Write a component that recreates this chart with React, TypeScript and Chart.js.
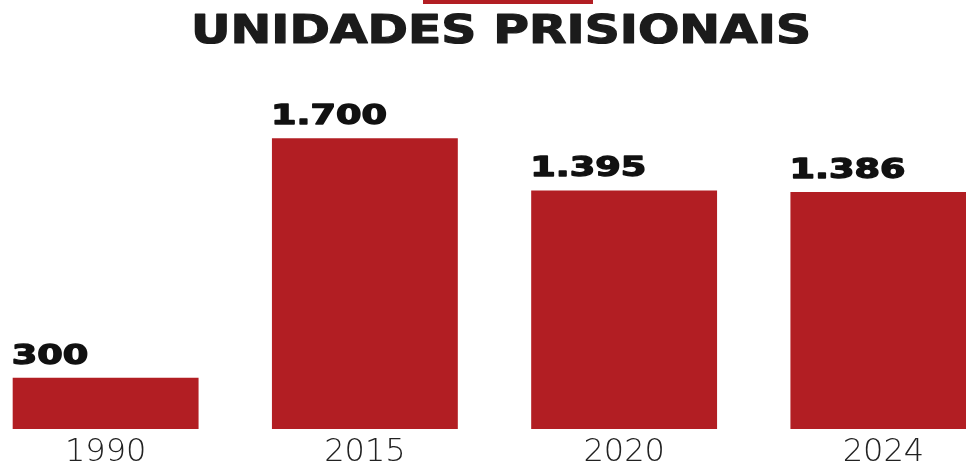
import React, { useEffect, useRef } from "react";
import { Chart, registerables } from "chart.js";

Chart.register(...registerables);

const TITLE = "UNIDADES PRISIONAIS";
const categories = ["1990", "2015", "2020", "2024"];
const values = [300, 1700, 1395, 1386];
const valueLabels = ["300", "1.700", "1.395", "1.386"];

const BAR_COLOR = "#B21E23";
const SHIFT = 24; // canvas extends left of the page
const CANVAS_W = 1037;
const CANVAS_H = 468;

const decorPlugin = {
  id: "decor",
  afterDatasetsDraw(chart: any) {
    const ctx = chart.ctx;
    ctx.save();
    // red tab at top
    ctx.fillStyle = BAR_COLOR;
    ctx.fillRect(423 + SHIFT, 0, 170, 4);
    // title
    ctx.fillStyle = "#1b1b1b";
    ctx.strokeStyle = "#1b1b1b";
    ctx.lineJoin = "round";
    ctx.font = "bold 39px 'DejaVu Sans'";
    ctx.textBaseline = "alphabetic";
    ctx.textAlign = "left";
    const tw = ctx.measureText(TITLE).width;
    const sx = 620 / tw;
    ctx.save();
    ctx.translate(191 + SHIFT, 43);
    ctx.scale(sx, 1);
    ctx.lineWidth = 1.2;
    ctx.fillText(TITLE, 0, 0);
    ctx.strokeText(TITLE, 0, 0);
    ctx.restore();
    // value labels
    ctx.fillStyle = "#111111";
    ctx.strokeStyle = "#111111";
    ctx.font = "bold 26px 'DejaVu Sans'";
    const refW = ctx.measureText("1.700").width;
    const lsx = 116 / refW;
    const meta = chart.getDatasetMeta(0);
    meta.data.forEach((bar: any, i: number) => {
      const left = bar.x - bar.width / 2;
      ctx.save();
      ctx.translate(left - 1, bar.y - 14);
      ctx.scale(lsx, 1);
      ctx.lineWidth = 1.3;
      ctx.fillText(valueLabels[i], 0, 0);
      ctx.strokeText(valueLabels[i], 0, 0);
      ctx.restore();
    });
    ctx.restore();
  },
};

export default function App() {
  const ref = useRef<HTMLCanvasElement | null>(null);
  useEffect(() => {
    if (!ref.current) return;
    const chart = new Chart(ref.current, {
      type: "bar",
      data: {
        labels: categories,
        datasets: [
          {
            data: values,
            backgroundColor: BAR_COLOR,
            borderWidth: 0,
            barPercentage: 0.717,
            categoryPercentage: 1,
          },
        ],
      },
      options: {
        responsive: false,
        animation: false,
        devicePixelRatio: 1,
        layout: { padding: { top: 87, left: 0, right: 0, bottom: 0 } },
        plugins: { legend: { display: false }, tooltip: { enabled: false }, title: { display: false } },
        scales: {
          x: {
            grid: { display: false, drawTicks: false },
            border: { display: false },
            ticks: {
              color: "#222222",
              padding: 4,
              font: { family: "'DejaVu Sans'", size: 32, weight: "200" as any },
            },
            afterFit: (scale: any) => {
              scale.height = 39;
            },
          },
          y: {
            display: false,
            min: 0,
            max: 2000,
          },
        },
      },
      plugins: [decorPlugin],
    });
    return () => chart.destroy();
  }, []);
  return (
    <div
      style={{
        position: "fixed",
        left: 0,
        top: 0,
        width: 966,
        height: 468,
        overflow: "hidden",
        background: "#ffffff",
      }}
    >
      <canvas
        ref={ref}
        width={CANVAS_W}
        height={CANVAS_H}
        style={{ position: "absolute", left: -SHIFT, top: 0, width: CANVAS_W, height: CANVAS_H }}
      />
    </div>
  );
}
